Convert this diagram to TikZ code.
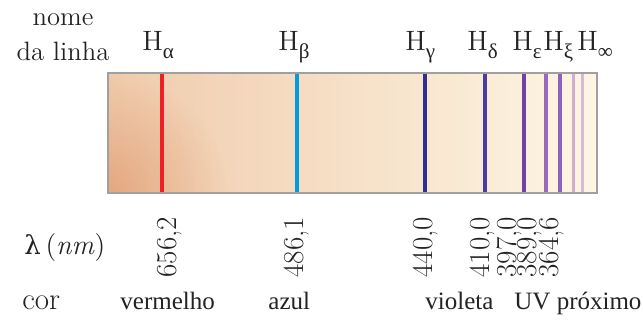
\documentclass[tikz,border=0pt]{standalone}
\usepackage{fontspec}
\setmainfont{Latin Modern Roman}
\newfontfamily\timesfont{Liberation Serif}
\newfontfamily\greekfont{DejaVu Serif}
\usetikzlibrary{fadings}
\definecolor{linered}{RGB}{237,32,36}
\definecolor{lineblue}{RGB}{0,157,220}
\definecolor{linenavy}{RGB}{46,49,146}
\definecolor{lineindigo}{RGB}{75,60,160}
\definecolor{linepurple}{RGB}{112,66,165}
\definecolor{linelilac}{RGB}{150,105,190}
\definecolor{linelilacb}{RGB}{145,98,185}
\definecolor{linepale}{RGB}{208,172,205}
\definecolor{linepaleb}{RGB}{215,186,210}
\definecolor{bgleft}{RGB}{240,203,172}
\definecolor{bgmid}{RGB}{246,224,198}
\definecolor{bgright}{RGB}{253,246,228}
\definecolor{bgcorner}{RGB}{224,156,114}
\definecolor{boxgray}{RGB}{160,160,160}
\definecolor{txtgray}{RGB}{35,35,35}
\tikzfading[name=cornerglow, inner color=transparent!25, outer color=transparent!100]
\newcommand{\linesub}[1]{\raisebox{-0.26em}{\fontsize{10.5}{11}\timesfont #1}}

\begin{document}
\begin{tikzpicture}[x=0.5pt,y=-0.5pt,
    every node/.style={inner sep=0pt, text=txtgray},
    lbl/.style={font=\fontsize{14}{15}\selectfont, anchor=base west},
    colorlbl/.style={font=\fontsize{12.5}{13}\timesfont, anchor=base west},
    wave/.style={font=\fontsize{14.5}{15}\selectfont, rotate=90, anchor=west}]
  \useasboundingbox (0,0) rectangle (643,320);
  % spectrum background
  \begin{scope}
    \clip (108,73) rectangle (597,193);
    \shade[left color=bgleft, middle color=bgmid, right color=bgright] (108,73) rectangle (597,193);
    \fill[bgcorner, path fading=cornerglow] (108,193) circle (120);
  \end{scope}
  \foreach \x/\c/\w in {161.7/linered/2, 297/lineblue/2, 425/linenavy/2.25, 484.7/lineindigo/2,
      524/linepurple/1.9, 545.7/linelilac/1.8, 559.7/linelilacb/1.8, 573.7/linepale/1.6, 582.7/linepaleb/1.6}
    \draw[\c, line width=\w] (\x,74) -- (\x,192);
  \draw[boxgray, line width=0.75] (108,73) rectangle (597,193);

  % line names
  \node[lbl, anchor=base, font=\fontsize{13.3}{14}\selectfont] (nome) at (63,26) {nome};
  \node[lbl, anchor=base, font=\fontsize{13.3}{14}\selectfont] (linha) at (63,61) {da linha};
  \node[lbl] (halpha) at (142,51) {H\linesub{α}};
  \node[lbl] (hbeta) at (278,51) {H\linesub{β}};
  \node[lbl] (hgamma) at (405,51) {H\linesub{γ}};
  \node[lbl] (hdelta) at (467,51) {H\linesub{δ}};
  \node[lbl] (heps) at (512,51) {H\linesub{ε}};
  \node[lbl] (hxi) at (543,51) {H\linesub{ξ}};
  \node[lbl] (hinf) at (577,51) {H\linesub{∞}};

  % wavelengths
  \node[lbl] (lambda) at (24,255) {{\fontsize{13}{14}\greekfont λ}\,(\textit{nm})};
  \foreach \x/\v [count=\i] in {170/656{,}2, 297/486{,}1, 426/440{,}0, 483/410{,}0,
      509/397{,}0, 530/389{,}0, 552/364{,}6}
    \node[wave] (wl\i) at (\x,278) {\v};

  % colours
  \node[lbl, font=\fontsize{15.5}{16}\selectfont] (cor) at (22,310) {cor};
  \node[colorlbl] (vermelho) at (120,310) {vermelho};
  \node[colorlbl] (azul) at (268,310) {azul};
  \node[colorlbl] (violeta) at (425,310) {violeta};
  \node[colorlbl] (uv) at (514,310) {UV próximo};
\end{tikzpicture}
\end{document}
